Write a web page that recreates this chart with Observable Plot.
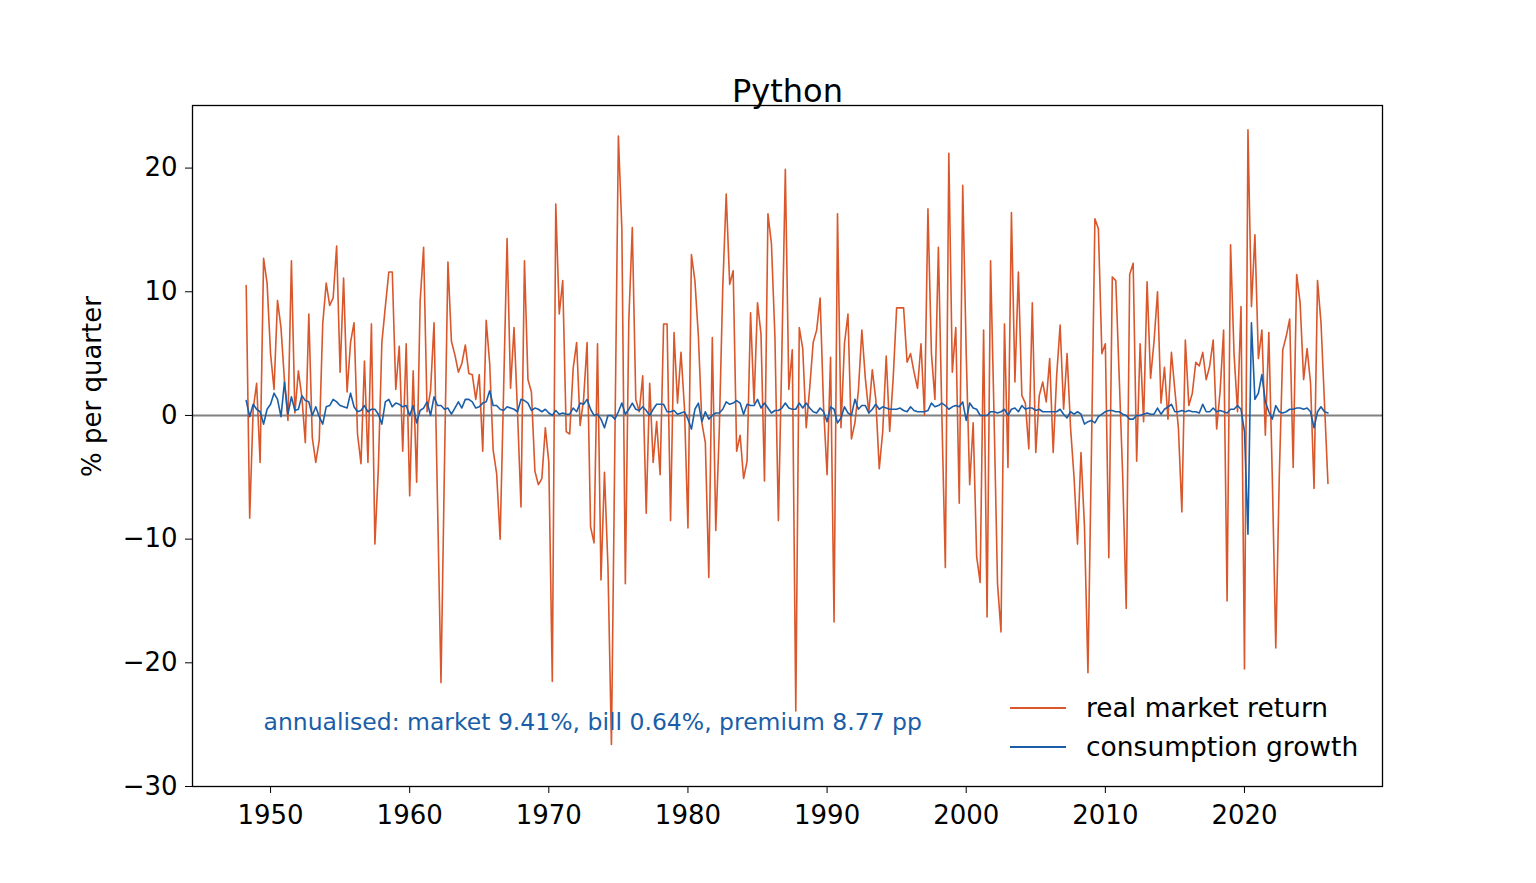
<!DOCTYPE html>
<html><head><meta charset="utf-8">
<script src="https://cdn.jsdelivr.net/npm/d3@7"></script>
<script src="https://cdn.jsdelivr.net/npm/@observablehq/plot@0.6"></script>
<style>
body{margin:0;background:#fff;font-family:"DejaVu Sans",sans-serif;}
#wrap{position:relative;width:1536px;height:883px;}
#legend{position:absolute;left:1000px;top:688px;font-size:26.5px;color:#000;}
#legend div{display:flex;align-items:center;height:39px;}
#legend span.l{display:inline-block;width:56px;height:0;border-top:2px solid;margin:0 20px 0 10px;}
</style></head><body>
<div id="wrap"><div id="legend"></div></div>
<script>
const title = "Python";
const yLabel = "% per quarter";
const seriesNames = ["real market return", "consumption growth"];
const seriesColors = ["#d9572b", "#1a5ea8"];
const note = "annualised: market 9.41%, bill 0.64%, premium 8.77 pp";
const startYear = 1948.25;
const xTicks = [1950,1960,1970,1980,1990,2000,2010,2020];
const yTicks = [-30,-20,-10,0,10,20];

const market = [
10.5,-8.3,0.5,2.6,-3.8,12.7,10.7,5,2.1,9.3,7.1,2.8,-0.4,12.5,0.2,3.6,1.5,-2.2,8.2,-1.8,-3.8,-2,7.4,10.7,8.9,9.5,13.7,3.5,11.1,1.9,5.9,7.5,-1.5,-3.9,4.4,-3.8,7.4,-10.4,-4.2,5.9,8.8,11.6,11.6,
2.1,5.6,-2.9,5.8,-6.5,3.6,-5.4,9.2,13.6,0.3,2,7.5,-7,-21.6,-4,12.4,6.0,4.9,3.5,4.2,5.7,3.4,3.3,1.3,3.3,-2.9,7.7,4.2,-2.8,-4.7,-10,2,14.3,2.2,7.1,0.3,-7.4,12.5,2.9,1.9,-4.5,
-5.6,-5.1,-1,-3.8,-21.5,17.1,8.2,10.9,-1.3,-1.5,3.8,5.9,-0.8,1.3,5.9,-9,-10.3,5.8,-13.3,-4.6,-12.2,-26.6,-2,22.6,15.1,-13.6,7.7,15.2,1.3,0.3,3.2,-7.9,2.6,-3.8,-0.5,-4.8,7.4,7.4,-8.5,6.7,1.0,
5.1,0.6,-9.1,13,10.9,6.4,-0.6,-2.2,-13.1,6.3,-9.3,-1.3,10.3,17.9,10.6,11.7,-2.9,-1.6,-5.1,-3.7,8.3,1,9.1,6.6,-5.3,16.3,13.9,6.4,-8.5,5,19.9,2.1,5.3,-23.9,7.1,5.4,-1,2.2,5.9,6.9,9.5,
0.6,-4.8,4.7,-16.7,16.3,-1,5.8,8.2,-1.9,-0.6,2,6.9,3,0.2,3.7,1.3,-4.3,-1.3,4.8,-1.3,3.0,8.7,8.7,8.7,4.3,5,3.5,2.2,5.8,0,16.7,5,1.3,13.6,0,-12.3,21.2,3.5,7.1,-7.1,18.6,5,-5.6,
-0.6,-11.4,-13.5,6.9,-16.3,12.5,0,-13.6,-17.5,7.4,-4.2,16.4,2.7,11.6,1.6,1,-2.7,9.1,-3,1.6,2.7,1.1,4.6,-3,3.2,7.3,0.5,5,-1,-5,-10.4,-3,-9,-20.8,-3,15.9,15.1,5,5.8,-11.5,11.2,10.9,
3,-5,-15.6,11.4,12.3,-3.7,5.8,-0.5,10.8,3,6,10,1,3.9,-0.3,5.1,2,-1,-7.8,6.1,0.8,1.8,4.3,4,5.1,2.9,4,6.1,-1.1,2,6.9,-15,13.8,5,0.3,8.8,
-20.5,23.1,8.8,14.6,4.6,6.9,-1.6,6.7,-5,-18.8,-5,5.3,6.4,7.8,-4.2,11.4,9.1,2.9,5.4,2.6,-5.9,10.9,7.5,1,-5.5
];
const consumption = [
1.2,-0.1,0.9,0.5,0.3,-0.7,0.5,0.9,1.8,1.3,-0.1,2.7,0.1,1.5,0.4,0.5,1.6,1.2,1.1,0,0.7,-0.1,-0.7,0.7,0.8,1.3,1.1,0.8,0.7,0.6,1.8,0.7,0.3,0.4,0.8,0.3,0.5,0.5,0.1,-0.7,1.1,1.3,0.7,
1,0.9,0.7,0.8,0,0.8,-0.6,0.4,0.6,1.1,0,1.5,0.8,0.8,0.5,0.6,0.1,0.6,1.1,0.6,1.3,1.3,1.1,0.6,0.7,1,1.1,2,0.8,0.8,0.5,0.4,0.7,0.6,0.5,0.3,1.3,1.2,1,0.4,0.6,
0.5,0.3,0.5,0.2,0,0.4,0.1,0.2,0.1,0.1,0.6,0.3,1,0.9,1.3,0.5,0,0.1,-0.3,-1,0,0,-0.3,0.3,1,0.1,0.5,1,0.5,0.4,0.7,0.4,0,0.5,0.9,0.9,0.9,0.3,0.3,0.4,0.1,
0.2,0.3,-0.3,-1.1,0.5,1,-0.5,0.3,-0.3,0,0.2,0.2,0.5,1.1,0.9,1,1.2,1,0.1,0.9,0.8,0.8,1.3,0.6,1,0.6,0.2,0.4,0.4,0.6,1,0.6,0.5,0.5,1,0.6,1,0.6,0.3,0.2,0.6,
0.3,-0.5,0.7,0.5,-0.6,-0.2,0.7,0.2,0,1.3,0.5,0.8,0.8,0.2,0.5,0.9,0.5,0.7,0.6,0.5,0.5,0.5,0.6,0.4,0.3,0.7,0.4,0.3,0.3,0.3,0.4,1,0.7,0.8,1,0.8,0.5,0.7,0.8,0.7,1.1,-0.4,1,
0.6,0.5,0,0,0,0.3,0.3,0.2,0.3,0.5,0,0.5,0.6,0.3,0.8,0.5,0.6,0.6,0.4,0.5,0.3,0.3,0.3,0.3,0.3,0.5,0.1,-0.2,0.3,0.1,0.3,0.1,-0.7,-0.5,-0.4,-0.6,-0.1,0.1,0.3,0.4,0.4,0.3,
0.3,0.1,0,-0.3,-0.3,0,0,0.1,0.2,0.1,0.1,0.6,0.1,0.5,0.7,0.9,0.3,0.3,0.4,0.3,0.4,0.3,0.3,0.2,0.9,0.3,0.3,0.6,0.3,0.4,0.3,0.2,0.5,0.5,0.8,0.5,
-1.3,-9.6,7.5,1.3,1.8,3.3,1.1,0.3,-0.3,0.8,0.3,0.2,0.3,0.5,0.5,0.6,0.6,0.5,0.6,0.3,-1,0.3,0.7,0.3,0.2
];

const mk = market.map((v,i)=>({t:startYear+i*0.25, v}));
const cs = consumption.map((v,i)=>({t:startYear+i*0.25, v}));

const fmt = d => (d<0?"\u2212":"")+Math.abs(d);
const chart = Plot.plot({
  width:1536, height:883,
  marginLeft:192, marginRight:154, marginTop:105, marginBottom:97,
  style:{fontFamily:"DejaVu Sans, sans-serif", fontSize:"26px", background:"#fff", overflow:"visible"},
  x:{domain:[1944.39,2029.92], label:null},
  y:{domain:[-30,25.06], label:null},
  marks:[
    Plot.ruleY([0],{stroke:"#808080", strokeWidth:2}),
    Plot.line(mk,{x:"t", y:"v", stroke:seriesColors[0], strokeWidth:1.6}),
    Plot.line(cs,{x:"t", y:"v", stroke:seriesColors[1], strokeWidth:1.6}),
    Plot.frame({stroke:"#000", strokeWidth:1.3}),
    Plot.axisX({ticks:xTicks, tickFormat:d=>String(d), tickSize:7, tickPadding:12, fontSize:26, label:null}),
    Plot.axisY({ticks:yTicks, tickFormat:fmt, tickSize:7, tickPadding:8, fontSize:26, label:null}),
    Plot.text([title],{frameAnchor:"top", dy:-26, fontSize:32, fill:"#000"}),
    Plot.text([yLabel],{frameAnchor:"left", dx:-100, dy:31, rotate:-90, fontSize:26, fill:"#000"}),
    Plot.text([note],{frameAnchor:"bottom-left", textAnchor:"start", dx:71, dy:-57, fontSize:23.5, fill:seriesColors[1]})
  ]
});
const wrap = document.getElementById("wrap");
wrap.insertBefore(chart, wrap.firstChild);
const lg = document.getElementById("legend");
seriesNames.forEach((n,i)=>{
  const d=document.createElement("div");
  d.innerHTML=`<span class="l" style="border-color:${seriesColors[i]}"></span>${n}`;
  lg.appendChild(d);
});
</script></body></html>
